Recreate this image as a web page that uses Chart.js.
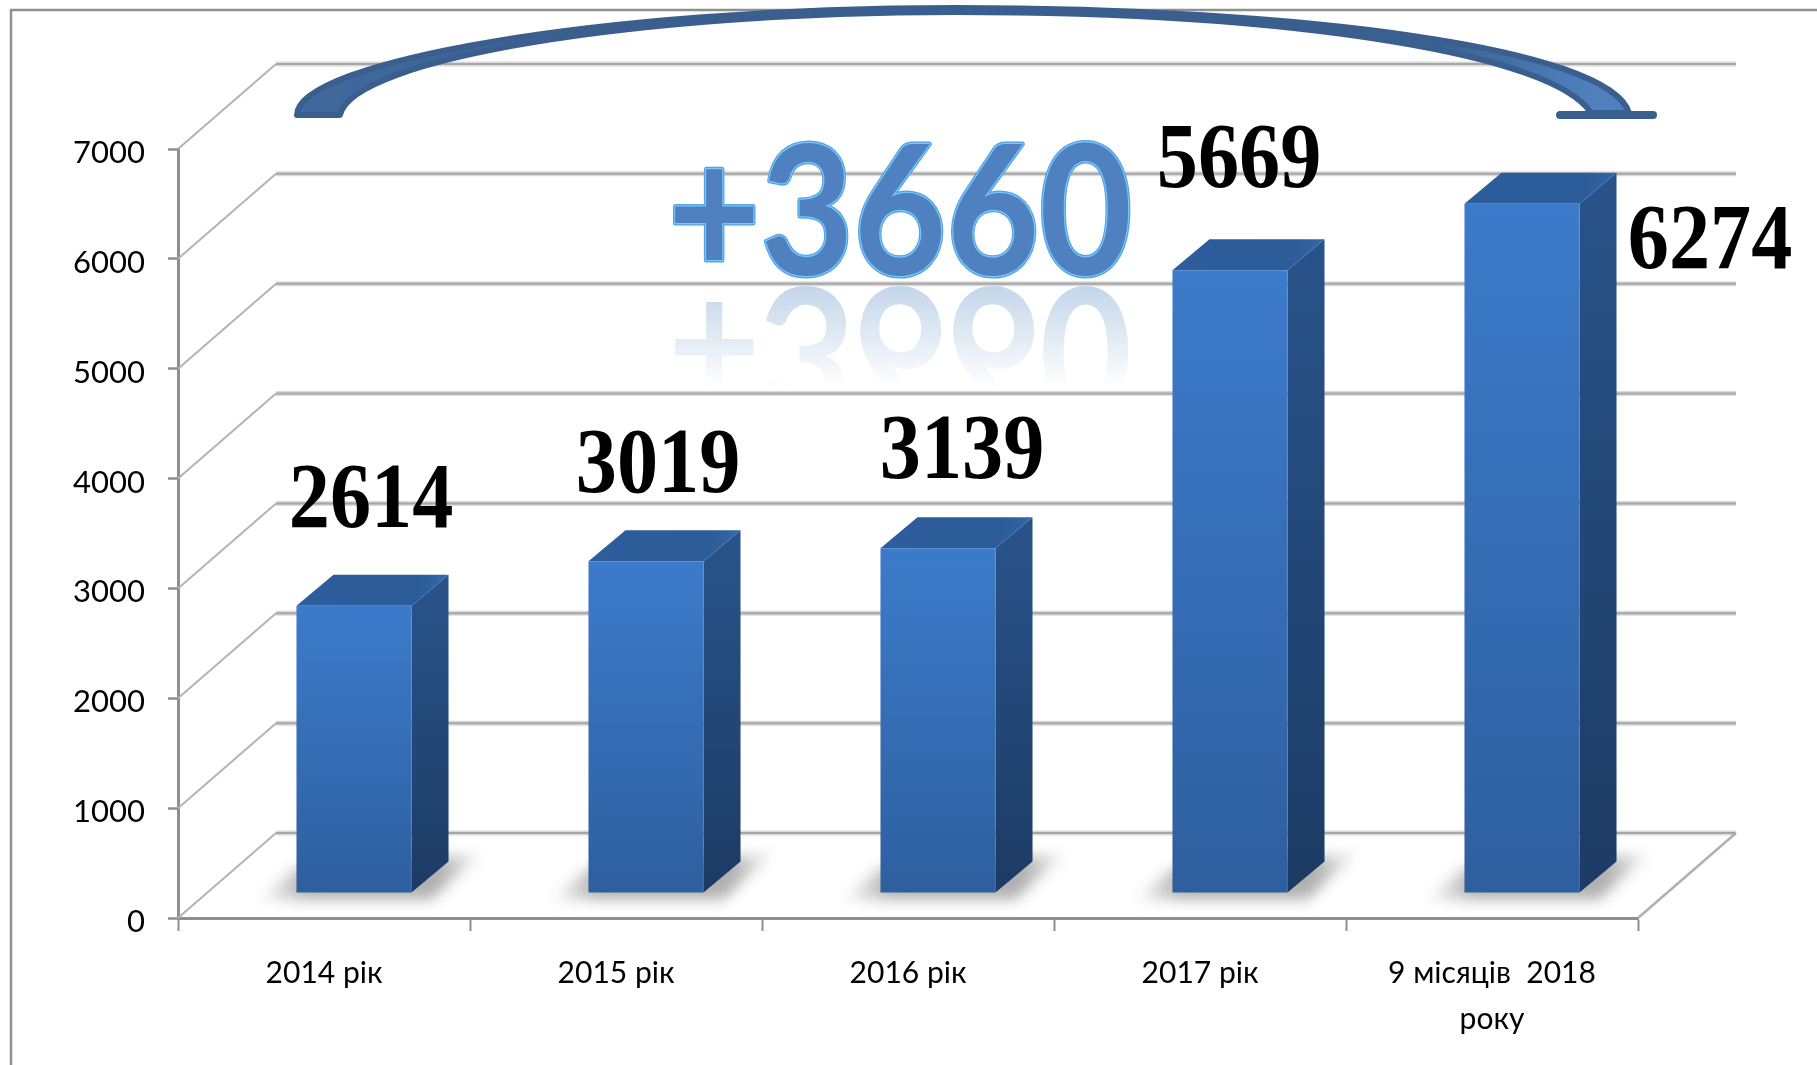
<!DOCTYPE html>
<html lang="uk">
<head>
<meta charset="utf-8">
<title>Chart</title>
<script src="https://cdn.jsdelivr.net/npm/chart.js@4"></script>
<style>html,body{margin:0;padding:0;background:#fff}canvas{display:block}</style>
</head>
<body>
<canvas id="c" width="1817" height="1065"></canvas>
<script>
const categories = ['2014 рік', '2015 рік', '2016 рік', '2017 рік', ['9 місяців  2018', 'року']];
const values = [2614, 3019, 3139, 5669, 6274];
const axisMin = 0;
const axisMax = 7000;
const axisStep = 1000;
const growthLabel = '+3660';
// where each value label sits, relative to the top of its bar
const labelShifts = [[47, -105], [42, -96], [54, -96], [39, -110], [218, 38]];

const TICK_FONT = {family: 'Lato, "Open Sans", sans-serif', size: 31};
const AXIS_GRAY = '#8f8f8f';
const PLANE = {dx: 98, dy: 85};         // depth of the back wall
const BAR = {dx: 30, dy: -25, sideX: 37, sideY: 31}; // bars stand in the middle of the floor

function threeDWalls(chart) {
  const {ctx, scales: {x, y}} = chart;
  const left = x.left, right = x.right, floor = y.getPixelForValue(0);
  ctx.save();
  ctx.lineCap = 'butt';
  for (let v = axisMin; v <= axisMax; v += axisStep) {
    const py = y.getPixelForValue(v);
    ctx.strokeStyle = '#b4b4b4';
    ctx.lineWidth = 2;
    ctx.beginPath();
    ctx.moveTo(left, py);
    ctx.lineTo(left + PLANE.dx, py - PLANE.dy);
    ctx.stroke();
    ctx.strokeStyle = 'rgba(170,170,170,.45)';
    ctx.lineWidth = 5;
    ctx.beginPath();
    ctx.moveTo(left + PLANE.dx, py - PLANE.dy);
    ctx.lineTo(right + PLANE.dx, py - PLANE.dy);
    ctx.stroke();
    ctx.strokeStyle = '#a6a6a6';
    ctx.lineWidth = 2;
    ctx.stroke();
  }
  ctx.strokeStyle = '#b0b0b0';
  ctx.lineWidth = 2.5;
  ctx.beginPath();
  ctx.moveTo(right + PLANE.dx, floor - PLANE.dy);
  ctx.lineTo(right, floor);
  ctx.stroke();
  ctx.restore();
}

function barBlock(ctx, el) {
  const x0 = el.x - el.width / 2, x1 = el.x + el.width / 2;
  const top = el.y, base = el.base;
  const {sideX: sx, sideY: sy} = BAR;

  ctx.save();
  ctx.filter = 'blur(7px)';
  const sg = ctx.createLinearGradient(x0 - 36, 0, x1 + 74, 0);
  sg.addColorStop(0, 'rgba(180,180,180,.2)');
  sg.addColorStop(.2, 'rgba(150,150,150,.75)');
  sg.addColorStop(.8, 'rgba(150,150,150,.75)');
  sg.addColorStop(1, 'rgba(180,180,180,.15)');
  ctx.fillStyle = sg;
  ctx.beginPath();
  ctx.moveTo(x0 - 36, base + 7);
  ctx.lineTo(x0, base - 24);
  ctx.lineTo(x1 + sx + 32, base - sy - 8);
  ctx.lineTo(x1 + 20, base + 7);
  ctx.closePath();
  ctx.fill();
  ctx.restore();

  const side = ctx.createLinearGradient(0, top, 0, base);
  side.addColorStop(0, '#285288');
  side.addColorStop(1, '#1c3b64');
  ctx.fillStyle = side;
  ctx.beginPath();
  ctx.moveTo(x1, top);
  ctx.lineTo(x1 + sx, top - sy);
  ctx.lineTo(x1 + sx, base - sy);
  ctx.lineTo(x1, base);
  ctx.closePath();
  ctx.fill();

  const cap = ctx.createLinearGradient(x0, 0, x1 + sx, 0);
  cap.addColorStop(0, '#2c5d9c');
  cap.addColorStop(.8, '#2c5c99');
  cap.addColorStop(1, '#3468a9');
  ctx.fillStyle = cap;
  ctx.beginPath();
  ctx.moveTo(x0, top);
  ctx.lineTo(x1, top);
  ctx.lineTo(x1 + sx, top - sy);
  ctx.lineTo(x0 + sx, top - sy);
  ctx.closePath();
  ctx.fill();
}

function arcArrow(ctx) {
  ctx.save();
  ctx.lineJoin = 'round';
  ctx.lineCap = 'round';
  const grad = ctx.createLinearGradient(294, 0, 1632, 0);
  grad.addColorStop(0, '#41699d');
  grad.addColorStop(.3, '#3a6090');
  grad.addColorStop(.85, '#3a6090');
  grad.addColorStop(.97, '#4f80bd');
  grad.addColorStop(1, '#4f80bd');
  ctx.fillStyle = grad;
  ctx.strokeStyle = '#3a5f8e';
  ctx.lineWidth = 6;
  ctx.beginPath();
  ctx.moveTo(297, 115);
  ctx.bezierCurveTo(297, 62, 600, 8, 955, 8);
  ctx.bezierCurveTo(1300, 8, 1610, 48, 1629, 113);
  ctx.lineTo(1591, 113);
  ctx.bezierCurveTo(1555, 55, 1300, 12, 955, 12);
  ctx.bezierCurveTo(640, 12, 352, 58, 340, 115);
  ctx.closePath();
  ctx.fill();
  ctx.stroke();
  ctx.lineWidth = 8;
  ctx.beginPath();
  ctx.moveTo(1560, 115);
  ctx.lineTo(1653, 115);
  ctx.stroke();
  ctx.restore();
}

function growthText(ctx) {
  const cx = 900, base = 275, mirror = 287;
  const squeeze = .89;
  ctx.save();
  ctx.textAlign = 'center';
  ctx.textBaseline = 'alphabetic';
  ctx.font = 'bold 180px Lato, "Open Sans", sans-serif';
  ctx.lineJoin = 'round';

  // faded reflection below the word (painted in a flipped space, so "up" runs down the screen)
  ctx.save();
  ctx.translate(cx, mirror);
  ctx.scale(squeeze, -1);
  const fade = ctx.createLinearGradient(0, 0, 0, -100);
  fade.addColorStop(0, 'rgba(196,214,234,1)');
  fade.addColorStop(1, 'rgba(196,214,234,0)');
  ctx.fillStyle = fade;
  ctx.fillText(growthLabel, 0, 0);
  ctx.restore();

  // the word itself
  ctx.save();
  ctx.translate(cx, base);
  ctx.scale(squeeze, 1);
  ctx.strokeStyle = '#55a0e6';
  ctx.lineWidth = 5;
  ctx.strokeText(growthLabel, 0, 0);
  ctx.strokeStyle = '#76c8f6';
  ctx.lineWidth = 2.5;
  ctx.strokeText(growthLabel, 0, 0);
  ctx.fillStyle = '#4f80bf';
  ctx.fillText(growthLabel, 0, 0);
  ctx.restore();
  ctx.restore();
}

const threeD = {
  id: 'threeD',
  beforeDraw(chart) {
    const {ctx} = chart;
    ctx.save();
    ctx.fillStyle = '#fff';
    ctx.fillRect(0, 0, chart.width, chart.height);
    ctx.strokeStyle = AXIS_GRAY;
    ctx.lineWidth = 2.5;
    ctx.beginPath();
    ctx.moveTo(11, chart.height);
    ctx.lineTo(11, 10);
    ctx.lineTo(chart.width, 10);
    ctx.stroke();
    ctx.restore();
  },
  beforeDatasetsDraw(chart) {
    threeDWalls(chart);
  },
  beforeDatasetDraw(chart, args) {
    const {ctx} = chart;
    ctx.save();
    ctx.translate(BAR.dx, BAR.dy);
    args.meta.data.forEach(el => barBlock(ctx, el));
  },
  afterDatasetDraw(chart) {
    chart.ctx.restore();
  },
  afterDatasetsDraw(chart) {
    const {ctx} = chart;
    growthText(ctx);
    arcArrow(ctx);
    const meta = chart.getDatasetMeta(0);
    ctx.save();
    ctx.fillStyle = '#000';
    ctx.textAlign = 'center';
    ctx.textBaseline = 'middle';
    ctx.font = 'bold 94px "Liberation Serif", "Times New Roman", serif';
    meta.data.forEach((el, i) => {
      ctx.save();
      ctx.translate(el.x + labelShifts[i][0], el.y + BAR.dy + labelShifts[i][1] + 2);
      ctx.scale(.875, 1);
      ctx.fillText(String(values[i]), 0, 0);
      ctx.restore();
    });
    ctx.restore();
  }
};

function frontGradient(c) {
  const chart = c.chart;
  if (!chart.chartArea || c.dataIndex === undefined) return '#3b78c8';
  const y = chart.scales.y;
  const g = chart.ctx.createLinearGradient(0, y.getPixelForValue(values[c.dataIndex]), 0, y.getPixelForValue(0));
  g.addColorStop(0, '#3c7bcb');
  g.addColorStop(1, '#2e5f9f');
  return g;
}

new Chart(document.getElementById('c'), {
  type: 'bar',
  data: {
    labels: categories,
    datasets: [{
      data: values,
      backgroundColor: frontGradient,
      borderWidth: 0,
      categoryPercentage: 1,
      barPercentage: .394,
      clip: false
    }]
  },
  plugins: [threeD],
  options: {
    responsive: false,
    animation: false,
    events: [],
    layout: {padding: {left: 0, top: 149, right: 179, bottom: 0}},
    plugins: {legend: {display: false}, title: {display: false}, tooltip: {enabled: false}},
    scales: {
      x: {
        afterFit(s) { s.height = 147; },
        grid: {drawOnChartArea: false, drawTicks: true, tickLength: 13, tickWidth: 2, tickColor: AXIS_GRAY},
        border: {display: true, color: AXIS_GRAY, width: 3},
        ticks: {autoSkip: false, maxRotation: 0, minRotation: 0, padding: 19, color: '#000', font: {...TICK_FONT, size: 30, lineHeight: 1.53}}
      },
      y: {
        min: axisMin,
        max: axisMax,
        afterFit(s) { s.width = 178; },
        grid: {drawOnChartArea: false, drawTicks: true, tickLength: 10, tickWidth: 2.5, tickColor: AXIS_GRAY},
        border: {display: true, color: AXIS_GRAY, width: 3},
        ticks: {stepSize: axisStep, padding: 23, labelOffset: 4, color: '#000', font: TICK_FONT, callback: v => String(v)}
      }
    }
  }
});
</script>
</body>
</html>
